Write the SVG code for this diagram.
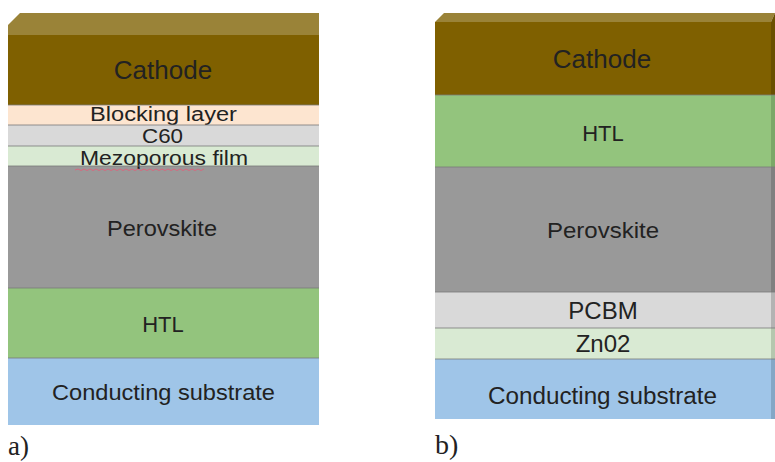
<svg xmlns="http://www.w3.org/2000/svg" width="775" height="462" viewBox="0 0 775 462">
<style>
.t{font-family:"Liberation Sans",Arial,sans-serif;fill:#222;text-anchor:middle}
.lbl{font-family:"Liberation Serif","Times New Roman",serif;fill:#222}
.sep{stroke:#7a7a7a;stroke-width:1.2;opacity:.8}
</style>
<rect width="775" height="462" fill="#fff"/>
<g id="panel-a">
  <polygon id="a-top" points="8,25 20,13 319,13 319,35 8,35" fill="#9a8338"/>
  <g id="a-cathode"><rect x="8" y="35" width="311" height="70" fill="#7f6000"/><text class="t" x="163" y="79" font-size="26">Cathode</text></g>
  <g id="a-blocking"><rect x="8" y="105" width="311" height="20" fill="#fde5d0"/><text class="t" x="163.5" y="121" font-size="20" textLength="147" lengthAdjust="spacingAndGlyphs">Blocking layer</text></g>
  <g id="a-c60"><rect x="8" y="125" width="311" height="21" fill="#d9d9d9"/><text class="t" x="162.5" y="143" font-size="20" textLength="41" lengthAdjust="spacingAndGlyphs">C60</text></g>
  <g id="a-perovskite"><rect x="8" y="166" width="311" height="122" fill="#999999"/><text class="t" x="162" y="236" font-size="22" textLength="110" lengthAdjust="spacingAndGlyphs">Perovskite</text></g>
  <g id="a-mezo"><rect x="8" y="146" width="311" height="20" fill="#d9ead3"/><text class="t" x="164" y="165" font-size="20" textLength="168" lengthAdjust="spacingAndGlyphs">Mezoporous film</text>
    <polyline points="75,170 78,169 81,170.5 84,169 87,170.5 90,169 93,170.5 96,169 99,170.5 102,169 105,170.5 108,169 111,170.5 114,169 117,170.5 120,169 123,170.5 126,169 129,170.5 132,169 135,170.5 138,169 141,170.5 144,169 147,170.5 150,169 153,170.5 156,169 159,170.5 162,169 165,170.5 168,169 171,170.5 174,169 177,170.5 180,169 183,170.5 186,169 189,170.5 192,169 195,170.5 198,169 201,170.5 204,169" fill="none" stroke="#e0607a" stroke-width="1" opacity=".85"/></g>
  <g id="a-htl"><rect x="8" y="288" width="311" height="70" fill="#93c47d"/><text class="t" x="163" y="332" font-size="22">HTL</text></g>
  <g id="a-substrate"><rect x="8" y="358" width="311" height="67" fill="#9fc5e8"/><text class="t" x="163.5" y="400" font-size="22" textLength="223" lengthAdjust="spacingAndGlyphs">Conducting substrate</text></g>
  <g id="a-lines">
    <line class="sep" x1="8" y1="105" x2="319" y2="105"/>
    <line class="sep" x1="8" y1="125" x2="319" y2="125"/>
    <line class="sep" x1="8" y1="146" x2="319" y2="146"/>
    <line class="sep" x1="8" y1="166" x2="319" y2="166"/>
    <line class="sep" x1="8" y1="288" x2="319" y2="288" opacity=".3"/>
    <line class="sep" x1="8" y1="358" x2="319" y2="358" opacity=".3"/>
  </g>
  <text class="lbl" x="8" y="455" font-size="27">a)</text>
</g>
<g id="panel-b">
  <polygon id="b-top" points="435,22 444,13 775,13 771,22" fill="#9a8338"/>
  <g id="b-side">
    <polygon points="771,22 775,13 775,95 771,95" fill="#6a5000"/>
    <rect x="771" y="95" width="4" height="72" fill="#7aa868"/>
    <rect x="771" y="167" width="4" height="125" fill="#808080"/>
    <rect x="771" y="292" width="4" height="36" fill="#b3b3b3"/>
    <rect x="771" y="328" width="4" height="31" fill="#b5c7ae"/>
    <rect x="771" y="359" width="4" height="60" fill="#84a7c6"/>
  </g>
  <g id="b-cathode"><rect x="435" y="22" width="336" height="73" fill="#7f6000"/><text class="t" x="602" y="68" font-size="26">Cathode</text></g>
  <g id="b-htl"><rect x="435" y="95" width="336" height="72" fill="#93c47d"/><text class="t" x="603" y="141" font-size="22">HTL</text></g>
  <g id="b-perovskite"><rect x="435" y="167" width="336" height="125" fill="#999999"/><text class="t" x="603" y="238" font-size="22" textLength="112" lengthAdjust="spacingAndGlyphs">Perovskite</text></g>
  <g id="b-pcbm"><rect x="435" y="292" width="336" height="36" fill="#d9d9d9"/><text class="t" x="603" y="319" font-size="24">PCBM</text></g>
  <g id="b-zno2"><rect x="435" y="328" width="336" height="31" fill="#d9ead3"/><text class="t" x="603" y="352" font-size="24">Zn02</text></g>
  <g id="b-substrate"><rect x="435" y="359" width="336" height="60" fill="#9fc5e8"/><text class="t" x="602.5" y="404" font-size="23" textLength="229" lengthAdjust="spacingAndGlyphs">Conducting substrate</text></g>
  <g id="b-lines">
    <line class="sep" x1="435" y1="95" x2="775" y2="95" opacity=".3"/>
    <line class="sep" x1="435" y1="167" x2="775" y2="167" opacity=".4"/>
    <line class="sep" x1="435" y1="292" x2="775" y2="292"/>
    <line class="sep" x1="435" y1="328" x2="775" y2="328"/>
    <line class="sep" x1="435" y1="359" x2="775" y2="359" opacity=".4"/>
  </g>
  <text class="lbl" x="435" y="454" font-size="28">b)</text>
</g>
</svg>
